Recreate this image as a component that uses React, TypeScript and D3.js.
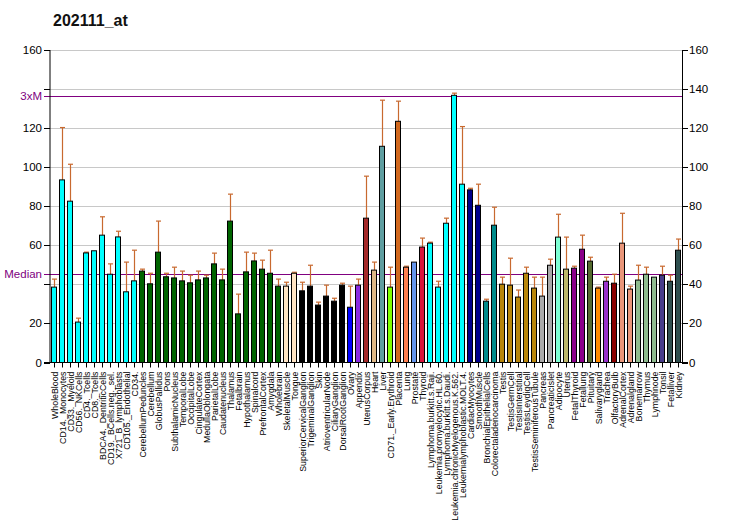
import React from 'react';
import * as d3 from 'd3';

const title = '202111_at';

const samples = [
  'WholeBlood', 'CD14._Monocytes', 'CD33._Myeloid', 'CD56._NKCells', 'CD4._Tcells', 'CD8._Tcells',
  'BDCA4._DentriticCells', 'CD19._BCells.neg._sel.', 'X721_B_lymphoblasts', 'CD105._Endothelial', 'CD34.',
  'CerebellumPeduncles', 'Cerebellum', 'GlobusPallidus', 'Pons', 'SubthalamicNucleus', 'TemporalLobe',
  'OccipitalLobe', 'CingulateCortex', 'MedullaOblongata', 'ParietalLobe', 'Caudatenucleus', 'Thalamus',
  'Fetalbrain', 'Hypothalamus', 'Spinalcord', 'PrefrontalCortex', 'Amygdala', 'Wholebrain',
  'SkeletalMuscle', 'Tongue', 'SuperiorCervicalGanglion', 'TrigeminalGanglion', 'Skin',
  'AtrioventricularNode', 'CiliaryGanglion', 'DorsalRootGanglion', 'Ovary', 'Appendix', 'UterusCorpus',
  'Heart', 'Liver', 'CD71._Early.Erythroid', 'Placenta', 'Lung', 'Prostate', 'Thyroid',
  'Lymphoma.burkitt.s.Raji.', 'Leukemia.promyelocytic.HL.60.', 'Lymphoma.burkitt.s.Daudi.',
  'Leukemia.chronicMyelogenous.K.562.', 'Leukemialymphoblastic.MOLT.4.', 'CardiacMyocytes',
  'SmoothMuscle', 'BronchialEpithelialCells', 'Colorectaladenocarcinoma', 'Testis', 'TestisGermCell',
  'TestisInterstitial', 'TestisLeydigCell', 'TestisSeminiferousTubule', 'Pancreas', 'PancreaticIslet',
  'Adipocyte', 'Uterus', 'FetalThyroid', 'Fetallung', 'Pituitary', 'Salivarygland', 'Trachea',
  'OlfactoryBulb', 'AdrenalCortex', 'Adrenalgland', 'Bonemarrow', 'Thymus', 'Lymphnode', 'Tonsil',
  'Fetalliver', 'Kidney',
];

const values = [
  38.6, 93.5, 82.6, 20.7, 56.1, 57.2, 65.2, 45.2, 64.3, 36.2, 41.8,
  46.8, 40.3, 56.5, 43.9, 43.3, 41.8, 40.8, 42.3, 43.3, 50.5, 42.3, 72.4,
  24.9, 46.4, 52.0, 47.8, 45.7, 39.1,
  39.1, 45.7, 36.7, 39.1, 29.4, 34.0, 31.4, 39.6, 28.3, 39.6, 73.9,
  47.3, 110.7, 38.6, 123.5, 48.8, 51.4, 59.1,
  61.1, 38.6, 71.3, 136.8, 91.3, 88.4,
  80.5, 31.4, 70.3, 40.1, 39.6, 33.5, 45.7, 38.1, 34.0, 49.8,
  64.2, 47.8, 48.3, 58.0, 51.9, 38.1, 41.6, 40.6, 61.1, 37.6, 42.2, 45.2, 43.7, 44.7,
  41.6, 57.5,
];

const errorTops = [
  42.7, 120.3, 101.5, 22.7, 56.5, 57.5, 74.6, 50.5, 67.2, 51.4, 57.5,
  47.8, 45.7, 72.4, 45.7, 48.8, 46.8, 44.7, 46.8, 44.7, 56.0, 47.8, 86.2,
  35.0, 56.5, 56.0, 52.4, 57.5, 42.7,
  41.1, 46.2, 41.1, 49.8, 30.9, 39.6, 32.9, 40.6, 39.1, 42.7, 95.4,
  51.4, 134.3, 48.8, 133.8, 49.3, 51.4, 63.7,
  61.6, 41.6, 73.9, 137.9, 120.8, 89.2,
  91.3, 32.4, 79.5, 43.7, 53.4, 37.1, 48.8, 43.7, 43.7, 52.9,
  75.9, 64.2, 49.3, 65.2, 53.9, 38.6, 43.7, 45.2, 76.4, 39.1, 49.8, 48.8, 43.7, 49.3,
  44.7, 63.2,
];

const barColors = [
  ...Array(11).fill('#00FFFF'),
  ...Array(18).fill('#006400'),
  '#FFE4C4', '#FFE4C4',
  ...Array(6).fill('#000000'),
  '#0000FF', '#8A2BE2', '#A52A2A', '#DEB887', '#5F9EA0', '#7FFF00', '#D2691E', '#FF7F50',
  '#6495ED', '#DC143C',
  ...Array(5).fill('#00FFFF'),
  '#00008B', '#00008B', '#008B8B', '#008B8B',
  ...Array(5).fill('#B8860B'),
  '#A9A9A9', '#A9A9A9', '#7FFFD4', '#BDB76B', '#8B008B', '#8B008B', '#556B2F', '#FF8C00',
  '#9932CC', '#8B0000', '#E9967A', '#E9967A', '#8FBC8F', '#8FBC8F', '#8FBC8F', '#483D8B',
  '#2F4F4F', '#2F4F4F',
];

const median = 45.4;
const gridTicks = [20, 40, 60, 80, 100, 120, 140, 160];
const leftTicks = [0, 20, 60, 80, 100, 120, 160];
const rightTicks = [0, 20, 40, 60, 80, 100, 120, 140, 160];

const W = 732;
const H = 530;
const left = 50;
const right = 682;
const top = 50;
const bottom = 362.5;

export default function App() {
  const x = d3.scaleBand<string>().domain(samples).range([left, right]).paddingInner(0.25).paddingOuter(0.125);
  const y = d3.scaleLinear().domain([0, 160]).range([bottom, top]);
  const bw = x.bandwidth();
  const font = 'Arial, "Liberation Sans", sans-serif';
  const errColor = '#C8692F';
  const purple = '#800080';

  return (
    <svg width={W} height={H} style={{ position: 'absolute', left: 0, top: 0, background: '#fff' }} fontFamily={font}>
      <text x={53} y={26} fontSize={16} fontWeight="bold" fill="#111">{title}</text>

      {gridTicks.map(t => (
        <line key={'g' + t} x1={left} x2={right} y1={Math.round(y(t)) + 0.5} y2={Math.round(y(t)) + 0.5} stroke="#c8c8c8" />
      ))}

      {[median, median * 3].map((m, i) => (
        <line key={'m' + i} x1={44} x2={right} y1={Math.round(y(m)) + 0.5} y2={Math.round(y(m)) + 0.5} stroke={purple} strokeWidth={1.2} />
      ))}

      {samples.map((s, i) => {
        const cx = Math.round(x(s)! + bw / 2) + 0.5;
        const yt = y(errorTops[i]);
        return (
          <g key={s}>
            {errorTops[i] > values[i] + 0.3 && (
              <g stroke={errColor} strokeWidth={1.2}>
                <line x1={cx} x2={cx} y1={yt} y2={y(values[i])} />
                <line x1={cx - 2.5} x2={cx + 2.5} y1={yt} y2={yt} />
              </g>
            )}
            <rect x={Math.round(x(s)!) + 0.5} y={y(values[i])} width={bw - 1} height={bottom - y(values[i])}
              fill={barColors[i]} stroke="#000" strokeWidth={1} />
          </g>
        );
      })}

      {/* axes */}
      <line x1={left} x2={left} y1={top} y2={bottom} stroke="#000" />
      <line x1={right + 0.5} x2={right + 0.5} y1={top} y2={bottom} stroke="#000" />
      <line x1={left - 6} x2={right + 6} y1={bottom} y2={bottom} stroke="#000" />

      {rightTicks.map(t => (
        <line key={'lt' + t} x1={left - 6} x2={left} y1={Math.round(y(t)) + 0.5} y2={Math.round(y(t)) + 0.5} stroke="#000" />
      ))}
      {leftTicks.map(t => (
        <text key={'ll' + t} x={42} y={y(t) + 4} fontSize={11.5} textAnchor="end" fill="#000">{t}</text>
      ))}
      <text x={42} y={y(median * 3) + 4} fontSize={11.5} textAnchor="end" fill={purple}>3xM</text>
      <text x={42} y={y(median) + 4} fontSize={11.5} textAnchor="end" fill={purple}>Median</text>

      {rightTicks.map(t => (
        <g key={'r' + t}>
          <line x1={right} x2={right + 6} y1={Math.round(y(t)) + 0.5} y2={Math.round(y(t)) + 0.5} stroke="#000" />
          <text x={689} y={y(t) + 4} fontSize={11.5} fill="#000">{t}</text>
        </g>
      ))}

      {samples.map(s => {
        const cx = Math.round(x(s)! + bw / 2) + 0.5;
        return (
          <g key={'xl' + s}>
            <line x1={cx} x2={cx} y1={bottom} y2={bottom + 5} stroke="#000" />
            <text transform={`translate(${cx + 3.3},${bottom + 9}) rotate(-90)`} fontSize={8.8} textAnchor="end" fill="#000">{s}</text>
          </g>
        );
      })}
    </svg>
  );
}
